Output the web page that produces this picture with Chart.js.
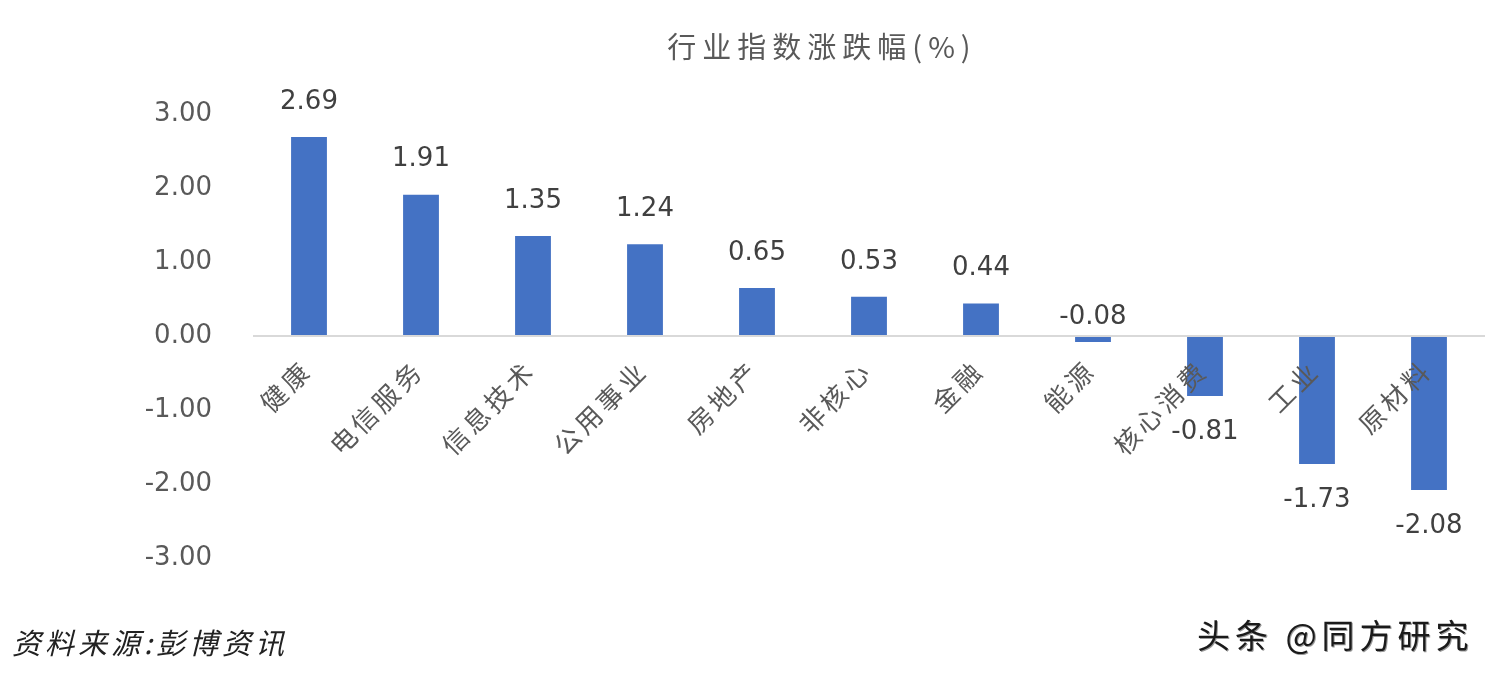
<!DOCTYPE html>
<html>
<head>
<meta charset="utf-8">
<script src="https://cdn.jsdelivr.net/npm/chart.js@4.4.1/dist/chart.umd.min.js"></script>
<style>
  html, body { margin: 0; padding: 0; background: #fff; }
  #wrap { position: relative; width: 1488px; height: 674px; overflow: hidden; }
  #chart { position: absolute; left: 0; top: 0; }
  .src  { position: absolute; left: 12px; top: 620px; font: italic 29px 'Noto Sans CJK SC', sans-serif; color: #222; letter-spacing: 4px; }
  .mark { position: absolute; left: 1197px; top: 610px; font: 33px 'Noto Sans CJK SC', sans-serif; color: #1a1a1a;
          letter-spacing: 5px; text-shadow: 1px 1px 0 #999; }
</style>
</head>
<body>
<div id="wrap">
  <canvas id="chart" width="1488" height="674"></canvas>
  <div class="src">资料来源:彭博资讯</div>
  <div class="mark">头条 @同方研究</div>
</div>
<script>
/* ---------- data ---------- */
const titleText  = '行业指数涨跌幅(%)';
const industries = ['健康', '电信服务', '信息技术', '公用事业', '房地产', '非核心', '金融', '能源', '核心消费', '工业', '原材料'];
const changes    = [2.69, 1.91, 1.35, 1.24, 0.65, 0.53, 0.44, -0.08, -0.81, -1.73, -2.08];
const yTicks     = [3, 2, 1, 0, -1, -2, -3];

const FONT = "'Noto Sans CJK SC', 'Noto Sans', sans-serif";
const NUM  = "'DejaVu Sans', sans-serif";

/* ---------- plugins ---------- */
const titlePlugin = {
  id: 'titleText',
  afterDraw(chart) {
    const c = chart.ctx;
    c.letterSpacing = '0px';   // reset the spacing used by the category labels
    c.save();
    c.font = `29px ${FONT}`;
    c.letterSpacing = '6px';
    c.fillStyle = '#595959';
    c.textAlign = 'center';
    c.textBaseline = 'middle';
    c.fillText(titleText, 822, 47);
    c.restore();
  },
};

const valueLabels = {
  id: 'valueLabels',
  afterDatasetsDraw(chart) {
    const c    = chart.ctx;
    const meta = chart.getDatasetMeta(0);
    const zero = chart.scales.y.getPixelForValue(0);
    c.save();
    c.font = `26px ${NUM}`;
    c.fillStyle = '#404040';
    c.textAlign = 'center';
    c.textBaseline = 'middle';
    meta.data.forEach((bar, i) => {
      const v = changes[i];
      let y;
      if (v >= 0) y = bar.y - 35;
      else if (Math.abs(v) < 0.2) y = zero - 19;
      else y = bar.y + 36;
      c.fillText(v.toFixed(2), bar.x, y);
    });
    c.restore();
    // category labels (x ticks, z=1) are drawn after this hook: widen their spacing
    c.letterSpacing = '4px';
  },
};

/* ---------- chart ---------- */
new Chart(document.getElementById('chart'), {
  type: 'bar',
  data: {
    labels: industries,
    datasets: [{
      data: changes,
      backgroundColor: '#4472C4',
      barPercentage: 0.32,
      categoryPercentage: 1,
    }],
  },
  options: {
    responsive: false,
    animation: false,
    layout: { padding: { top: 114, bottom: 116, left: 0, right: 3 } },
    plugins: { legend: { display: false }, tooltip: { enabled: false } },
    scales: {
      x: {
        position: { y: 0 },
        grid: { display: false, drawTicks: false },
        border: { display: false },
        ticks: {
          z: 1,
          minRotation: 45, maxRotation: 45, padding: 18, labelOffset: -2,
          color: '#595959', font: { family: FONT, size: 26 },
        },
      },
      y: {
        min: -3, max: 3,
        afterFit: s => { s.width = 253; },
        afterBuildTicks: s => { s.ticks = yTicks.map(v => ({ value: v })); },
        grid: {
          drawTicks: false,
          lineWidth: 2,
          color: ctx => ctx.tick && ctx.tick.value === 0 ? '#d9d9d9' : 'rgba(0,0,0,0)',
        },
        border: { display: false },
        ticks: {
          padding: 41,
          color: '#595959',
          font: { family: NUM, size: 26 },
          callback: v => v.toFixed(2),
        },
      },
    },
  },
  plugins: [titlePlugin, valueLabels],
});
</script>
</body>
</html>
